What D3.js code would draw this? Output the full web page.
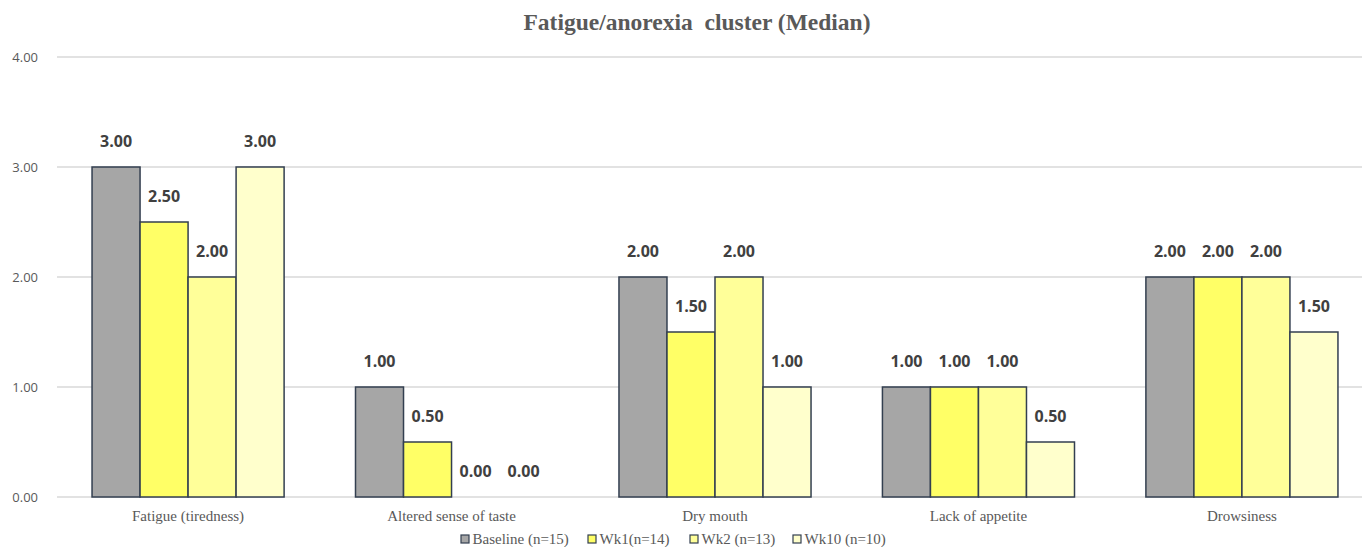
<!DOCTYPE html>
<html>
<head>
<meta charset="utf-8">
<script src="https://cdn.jsdelivr.net/npm/d3@7"></script>
<style>
  body { margin: 0; background: #fff; }
</style>
</head>
<body>
<svg id="chart" width="1365" height="547"></svg>
<script>
const categories = ["Fatigue (tiredness)", "Altered sense of taste", "Dry mouth", "Lack of appetite", "Drowsiness"];
const seriesNames = ["Baseline (n=15)", "Wk1(n=14)", "Wk2 (n=13)", "Wk10 (n=10)"];
const baseline = [3.0, 1.0, 2.0, 1.0, 2.0];
const wk1 = [2.5, 0.5, 1.5, 1.0, 2.0];
const wk2 = [2.0, 0.0, 2.0, 1.0, 2.0];
const wk10 = [3.0, 0.0, 1.0, 0.5, 1.5];
const yTicks = [0, 1, 2, 3, 4];
const colors = ["#A6A6A6", "#FFFF66", "#FFFF99", "#FFFFCC"];

const series = [baseline, wk1, wk2, wk10];

const svg = d3.select("#chart");
const margin = { top: 57, right: 3, bottom: 50, left: 57 };
const width = 1365 - margin.left - margin.right;
const height = 547 - margin.top - margin.bottom;

const g = svg.append("g").attr("transform", `translate(${margin.left},${margin.top})`);

// plot area runs a little past the right edge of the picture
const x0 = d3.scaleBand().domain(categories).range([0, 1316]).paddingInner(0.271).paddingOuter(0.133);
const x1 = d3.scaleBand().domain(d3.range(seriesNames.length)).range([0, x0.bandwidth()]);
const y = d3.scaleLinear().domain([0, 4]).range([height, 0]);

// gridlines
g.selectAll(".grid")
    .data(yTicks)
    .join("line")
    .attr("class", "grid")
    .attr("x1", 0)
    .attr("x2", width)
    .attr("y1", d => y(d))
    .attr("y2", d => y(d))
    .attr("stroke", "#D9D9D9")
    .attr("stroke-width", 1.5);

// y labels
const yAxis = d3.axisLeft(y).tickValues(yTicks).tickFormat(d3.format(".2f")).tickSize(0).tickPadding(19);
const yAxisG = g.append("g").call(yAxis);
yAxisG.select(".domain").remove();
yAxisG.selectAll("text")
    .attr("font-family", "'Open Sans', 'Liberation Sans', sans-serif")
    .attr("font-size", 13)
    .attr("fill", "#595959");

// bars
const groups = g.selectAll(".cat")
    .data(categories)
    .join("g")
    .attr("class", "cat")
    .attr("transform", d => `translate(${x0(d)},0)`);

groups.each(function (cat, ci) {
    const grp = d3.select(this);
    series.forEach((vals, si) => {
        const v = vals[ci];
        if (v > 0) {
            grp.append("rect")
                .attr("x", x1(si))
                .attr("y", y(v))
                .attr("width", x1.bandwidth())
                .attr("height", y(0) - y(v))
                .attr("fill", colors[si])
                .attr("stroke", "#333F50")
                .attr("stroke-width", 1.5);
        }
        grp.append("text")
            .attr("x", x1(si) + x1.bandwidth() / 2)
            .attr("y", y(v) - 20)
            .attr("text-anchor", "middle")
            .attr("font-family", "'Open Sans', 'Liberation Sans', sans-serif")
            .attr("font-weight", "bold")
            .attr("font-size", 16)
            .attr("fill", "#404040")
            .text(d3.format(".2f")(v));
    });
});

// x axis labels
g.selectAll(".xlab")
    .data(categories)
    .join("text")
    .attr("class", "xlab")
    .attr("x", d => x0(d) + x0.bandwidth() / 2)
    .attr("y", height + 24)
    .attr("text-anchor", "middle")
    .attr("font-family", "'Liberation Serif', 'Times New Roman', serif")
    .attr("font-size", 15)
    .attr("fill", "#595959")
    .text(d => d);

// title
svg.append("text")
    .attr("x", 697)
    .attr("y", 30)
    .attr("text-anchor", "middle")
    .attr("font-family", "'Liberation Serif', 'Times New Roman', serif")
    .attr("font-weight", "bold")
    .attr("font-size", 23.5)
    .attr("fill", "#595959")
    .style("white-space", "pre")
    .text("Fatigue/anorexia  cluster (Median)");

// legend
const legendX = [461, 588, 690, 793];
const legend = svg.append("g");
seriesNames.forEach((name, i) => {
    legend.append("rect")
        .attr("x", legendX[i])
        .attr("y", 535)
        .attr("width", 8)
        .attr("height", 8)
        .attr("fill", colors[i])
        .attr("stroke", "#333F50")
        .attr("stroke-width", 1.2);
    legend.append("text")
        .attr("x", legendX[i] + 11.5)
        .attr("y", 543.5)
        .attr("font-family", "'Liberation Serif', 'Times New Roman', serif")
        .attr("font-size", 15)
        .attr("fill", "#595959")
        .text(name);
});
</script>
</body>
</html>
